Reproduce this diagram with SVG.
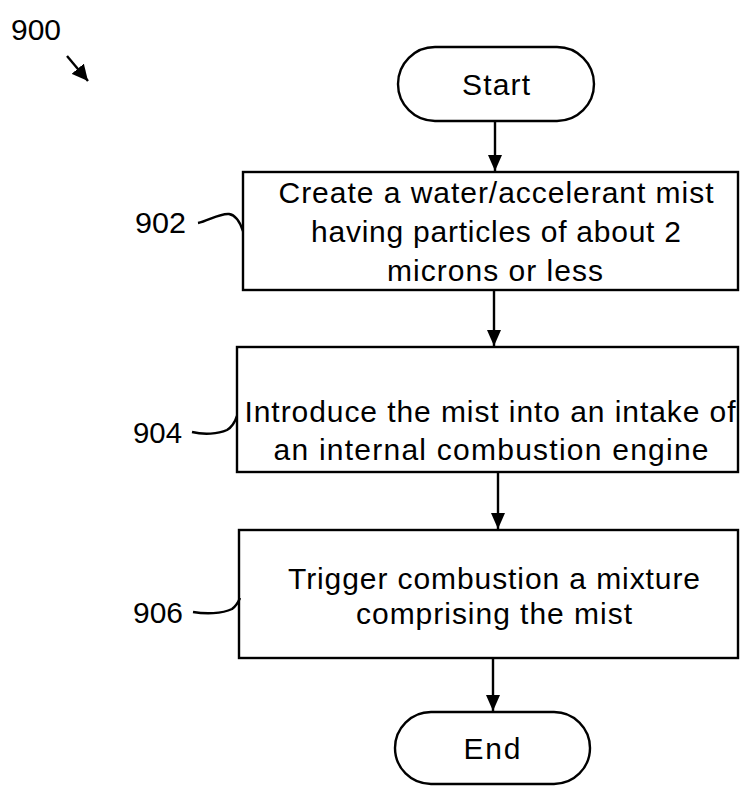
<svg xmlns="http://www.w3.org/2000/svg" width="740" height="786" viewBox="0 0 740 786">
<style>
.sh{fill:#fff;stroke:#000;stroke-width:2.4}
.ln{fill:none;stroke:#000;stroke-width:2.4}
.t{font-family:"Liberation Sans",Arial,sans-serif;font-size:30px;fill:#000;text-anchor:middle}
.lb{font-family:"Liberation Sans",Arial,sans-serif;font-size:29px;fill:#000}
</style>
<defs>
<marker id="ah" viewBox="0 0 16 14" refX="16" refY="7" markerWidth="16" markerHeight="14" orient="auto" markerUnits="userSpaceOnUse">
<path d="M0,0 L16,7 L0,14 Z" fill="#000"/>
</marker>
<marker id="ah2" viewBox="0 0 16 16" refX="16" refY="8" markerWidth="16" markerHeight="16" orient="auto" markerUnits="userSpaceOnUse">
<path d="M0,0 L16,8 L0,16 Z" fill="#000"/>
</marker>
</defs>

<g id="label-900">
<text class="lb" x="11" y="40" textLength="50" lengthAdjust="spacingAndGlyphs">900</text>
<line class="ln" x1="67" y1="56" x2="88" y2="81" marker-end="url(#ah2)"/>
</g>

<g id="start">
<rect class="sh" x="398" y="47" width="196" height="74" rx="37" ry="37"/>
<text class="t" x="496" y="95" textLength="68" lengthAdjust="spacing">Start</text>
</g>

<g id="n902">
<rect class="sh" x="243" y="172" width="495" height="118"/>
<text class="t" x="496" y="203" textLength="435" lengthAdjust="spacing">Create a water/accelerant mist</text>
<text class="t" x="496" y="242" textLength="370" lengthAdjust="spacing">having particles of about 2</text>
<text class="t" x="495" y="281" textLength="216" lengthAdjust="spacing">microns or less</text>
<text class="lb" x="135" y="233" textLength="51" lengthAdjust="spacingAndGlyphs">902</text>
<path class="ln" d="M198,223 C208,221 220,213 229,214 C236,215 240,222 243,231"/>
</g>

<g id="n904">
<rect class="sh" x="237" y="347" width="501" height="125"/>
<text class="t" x="490" y="422" textLength="491" lengthAdjust="spacing">Introduce the mist into an intake of</text>
<text class="t" x="491" y="460" textLength="435" lengthAdjust="spacing">an internal combustion engine</text>
<text class="lb" x="133" y="443" textLength="49" lengthAdjust="spacingAndGlyphs">904</text>
<path class="ln" d="M192,432 C204,435 218,434 227,430 C232,427 235,422 237,416"/>
</g>

<g id="n906">
<rect class="sh" x="239" y="530" width="499" height="128"/>
<text class="t" x="494" y="589" textLength="412" lengthAdjust="spacing">Trigger combustion a mixture</text>
<text class="t" x="494" y="624" textLength="276" lengthAdjust="spacing">comprising the mist</text>
<text class="lb" x="133" y="623" textLength="50" lengthAdjust="spacingAndGlyphs">906</text>
<path class="ln" d="M193,612 C205,614 222,614 232,609 C236,606 238,603 240,598"/>
</g>

<g id="end">
<rect class="sh" x="395" y="712" width="195" height="72" rx="36" ry="36"/>
<text class="t" x="492" y="759" textLength="57" lengthAdjust="spacing">End</text>
</g>

<g id="connectors">
<line class="ln" x1="495" y1="121" x2="495" y2="171" marker-end="url(#ah)"/>
<line class="ln" x1="494" y1="290" x2="494" y2="346" marker-end="url(#ah)"/>
<line class="ln" x1="498" y1="472" x2="498" y2="529" marker-end="url(#ah)"/>
<line class="ln" x1="493" y1="658" x2="493" y2="711" marker-end="url(#ah)"/>
</g>
</svg>
